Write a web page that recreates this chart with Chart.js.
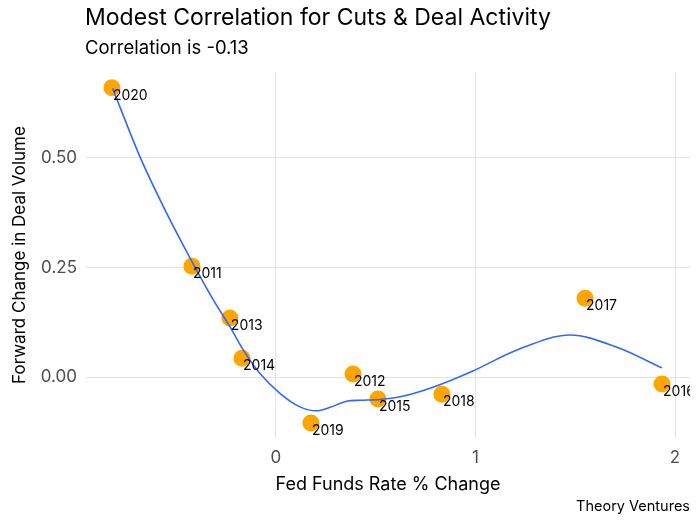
<!DOCTYPE html>
<html>

<head>
    <title>Modest Correlation for Cuts & Deal Activity</title>
    <script src="https://cdn.jsdelivr.net/npm/chart.js"></script>
    <style>
        body {
            margin: 0;
            background: #ffffff;
        }

        #wrap {
            width: 700px;
            height: 525px;
        }
    </style>
</head>

<body>
    <div id="wrap"><canvas id="chart"></canvas></div>

    <script>
        // years and values
        const years = ['2020', '2011', '2013', '2014', '2012', '2015', '2019', '2018', '2017', '2016'];
        const rateChange = [-0.822, -0.421, -0.231, -0.170, 0.386, 0.511, 0.175, 0.832, 1.549, 1.935];
        const dealChange = [0.660, 0.253, 0.135, 0.043, 0.007, -0.050, -0.105, -0.039, 0.180, -0.016];

        // smoothed trend line (loess)
        const trendX = [-0.819, -0.682, -0.548, -0.431, -0.314, -0.231, -0.164, -0.080, 0.020, 0.120, 0.204, 0.271, 0.354, 0.421, 0.521, 0.622, 0.787, 0.987, 1.208, 1.474, 1.709, 1.935];
        const trendY = [0.659, 0.503, 0.374, 0.272, 0.176, 0.115, 0.062, 0.008, -0.037, -0.068, -0.077, -0.069, -0.055, -0.053, -0.051, -0.045, -0.023, 0.014, 0.062, 0.096, 0.068, 0.021];

        const xTicks = [0, 1, 2];
        const yTicks = [0, 0.25, 0.5];

        const FONT = 'Inter, "Noto Sans", sans-serif';

        const points = rateChange.map((x, i) => ({ x: x, y: dealChange[i] }));
        const trend = trendX.map((x, i) => ({ x: x, y: trendY[i] }));

        // titles, caption and point labels
        const textPlugin = {
            id: 'texts',
            afterDatasetsDraw(chart) {
                const ctx = chart.ctx;
                const area = chart.chartArea;
                const xs = chart.scales.x;
                const ys = chart.scales.y;
                ctx.save();
                ctx.beginPath();
                ctx.rect(area.left, area.top, area.right - area.left, area.bottom - area.top);
                ctx.clip();
                ctx.fillStyle = '#000000';
                ctx.font = '14px ' + FONT;
                ctx.textAlign = 'left';
                ctx.textBaseline = 'middle';
                points.forEach((p, i) => {
                    ctx.fillText(years[i], xs.getPixelForValue(p.x) + 1, ys.getPixelForValue(p.y) + 8);
                });
                ctx.restore();
            },
            afterDraw(chart) {
                const ctx = chart.ctx;
                const area = chart.chartArea;
                ctx.save();
                ctx.fillStyle = '#000000';
                ctx.textBaseline = 'middle';
                ctx.textAlign = 'left';
                ctx.font = '23px ' + FONT;
                ctx.fillText('Modest Correlation for Cuts & Deal Activity', area.left - 1, 18);
                ctx.font = '18.5px ' + FONT;
                ctx.fillText('Correlation is -0.13', area.left - 1, 48);
                ctx.textAlign = 'right';
                ctx.font = '14.5px ' + FONT;
                ctx.fillText('Theory Ventures', area.right, 507);
                ctx.restore();
            }
        };

        new Chart(document.getElementById('chart'), {
            type: 'scatter',
            data: {
                datasets: [{
                    data: trend,
                    showLine: true,
                    borderColor: '#3366FF',
                    borderWidth: 1.6,
                    pointRadius: 0,
                    cubicInterpolationMode: 'monotone',
                    order: 1
                }, {
                    data: points,
                    backgroundColor: '#FFA500',
                    borderWidth: 0,
                    pointRadius: 8.5,
                    order: 2
                }]
            },
            options: {
                responsive: true,
                maintainAspectRatio: false,
                animation: false,
                layout: { padding: { top: 72, right: 10, bottom: 30, left: 6 } },
                plugins: {
                    legend: { display: false },
                    tooltip: { enabled: false }
                },
                scales: {
                    x: {
                        min: -0.952,
                        max: 2.075,
                        afterBuildTicks: s => { s.ticks = xTicks.map(v => ({ value: v })); },
                        afterFit: s => { s.height = 57; },
                        border: { display: false },
                        grid: { color: '#e3e3e3', lineWidth: 1, drawTicks: false },
                        ticks: {
                            padding: 10,
                            color: '#4d4d4d',
                            font: { family: FONT, size: 17 },
                            maxRotation: 0
                        },
                        title: {
                            display: true,
                            text: 'Fed Funds Rate % Change',
                            color: '#000000',
                            font: { family: FONT, size: 18 },
                            padding: { top: 4, bottom: 0 }
                        }
                    },
                    y: {
                        min: -0.139,
                        max: 0.696,
                        afterBuildTicks: s => { s.ticks = yTicks.map(v => ({ value: v })); },
                        afterFit: s => { s.width = 80; },
                        border: { display: false },
                        grid: { color: '#e3e3e3', lineWidth: 1, drawTicks: false },
                        ticks: {
                            padding: 9,
                            color: '#4d4d4d',
                            font: { family: FONT, size: 17 },
                            callback: v => v.toFixed(2)
                        },
                        title: {
                            display: true,
                            text: 'Forward Change in Deal Volume',
                            color: '#000000',
                            font: { family: FONT, size: 17 },
                            padding: { top: 4, bottom: 0 }
                        }
                    }
                }
            },
            plugins: [textPlugin]
        });
    </script>
</body>

</html>
